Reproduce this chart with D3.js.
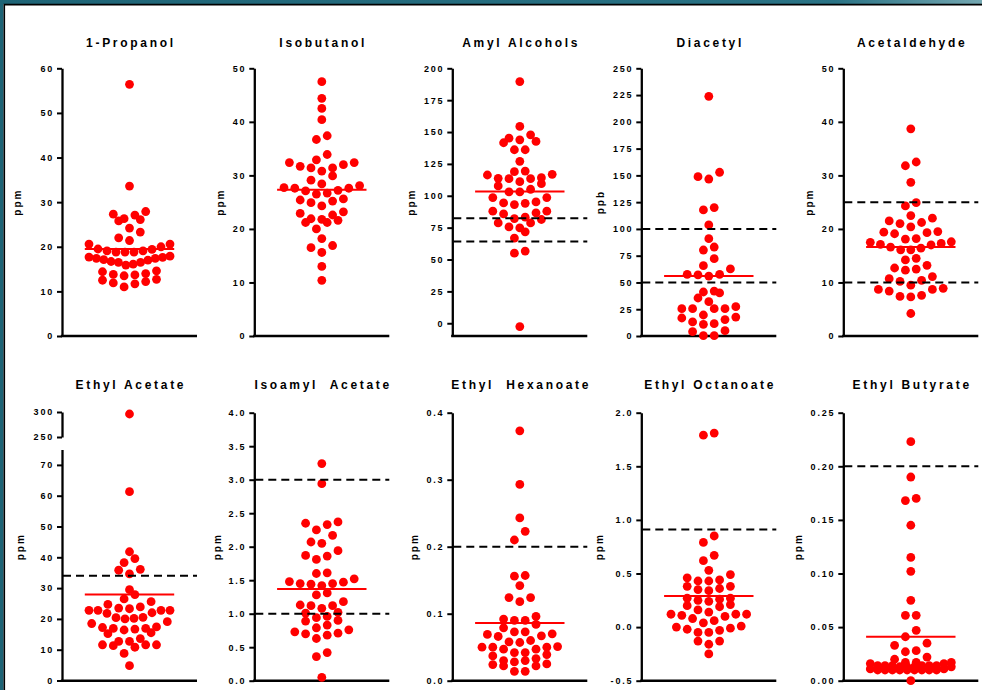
<!DOCTYPE html>
<html lang="en">
<head>
<meta charset="UTF-8" />
<title>Volatile compounds</title>
<style>
  body { margin: 0; background: #fff; }
  svg text { font-family: Arial, "Liberation Sans", sans-serif; font-weight: bold; fill: #000; }
</style>
</head>
<body>
<svg id="chart" width="982" height="690"></svg>
<script src="https://cdn.jsdelivr.net/npm/d3@7"></script>
<script>
const titles = ["1-Propanol", "Isobutanol", "Amyl Alcohols", "Diacetyl", "Acetaldehyde",
  "Ethyl Acetate", "Isoamyl  Acetate", "Ethyl  Hexanoate", "Ethyl Octanoate", "Ethyl Butyrate"];
const units = ["ppm", "ppm", "ppm", "ppb", "ppm", "ppm", "ppm", "ppm", "ppm", "ppm"];

const propanol = [56.4, 33.6, 27.9, 26.3, 27.1, 27.3, 25.8, 26.1, 23.3, 24.2, 21.4, 22.0, 20.6, 20.0, 19.4, 19.1,
  18.8, 18.8, 18.8, 19.1, 19.5, 20.6, 17.7, 17.4, 17.1, 16.7, 16.5, 15.9, 16.1, 16.5, 17.0, 17.4, 17.6, 17.9,
  14.6, 14.0, 13.7, 13.5, 13.8, 14.4, 12.5, 11.9, 11.0, 11.7, 12.2, 12.7];
const isobutanol = [47.5, 44.4, 42.5, 40.4, 36.7, 37.4, 32.9, 31.7, 32.4, 31.4, 32.0, 30.8, 32.4, 31.4, 33.9, 29.9,
  28.4, 26.7, 27.7, 25.6, 27.6, 25.2, 27.2, 25.4, 24.9, 27.6, 26.5, 28.1, 27.1, 29.1, 24.3, 23.2, 22.9, 21.9,
  21.6, 21.2, 21.2, 21.8, 22.6, 20.0, 18.2, 16.9, 15.6, 16.5, 13.0, 10.4];
const amyl = [189.6, 154.4, 145.2, 147.8, 142.6, 141.6, 143.9, 136.1, 136.1, 127.0, 116.8, 119.4, 118.9, 116.3,
  109.5, 114.2, 113.4, 113.4, 113.7, 111.1, 105.1, 103.0, 103.0, 107.7, 98.6, 98.6, 93.1, 94.4, 94.1, 95.2, 87.9,
  85.8, 86.6, 87.9, 83.2, 81.4, 82.1, 74.8, 78.7, 75.6, 78.7, 71.7, 66.8, 56.6, 55.0, -2.6];
const diacetyl = [223.8, 148.8, 146.6, 152.9, 117.7, 119.9, 103.7, 90.9, 83.1, 80.3, 72.2, 62.6, 65.7, 57.6, 56.0,
  57.0, 57.6, 42.0, 40.2, 35.5, 41.1, 32.1, 27.4, 25.5, 25.5, 25.5, 25.5, 17.7, 15.3, 11.5, 10.9, 13.1, 16.8,
  19.6, 4.0, 0.3, 0.3, 5.0];
const acetaldehyde = [38.7, 31.8, 32.5, 28.7, 24.3, 24.9, 22.5, 21.5, 21.2, 22.0, 20.4, 21.0, 19.4, 19.1, 19.3,
  19.5, 18.2, 18.1, 17.6, 17.3, 16.1, 17.0, 16.1, 16.6, 16.4, 17.1, 17.5, 14.5, 14.2, 13.2, 12.5, 12.3, 12.7,
  11.1, 10.4, 10.2, 10.7, 9.5, 8.7, 8.4, 8.7, 8.9, 7.4, 7.3, 7.6, 4.2];
const ethylAcetate = [296, 61.3, 41.8, 39.6, 38.3, 35.8, 34.6, 36.1, 29.5, 27.9, 26.5, 24.7, 25.6, 23.9, 23.3, 22.8,
  22.8, 21.8, 20.4, 20.0, 20.2, 20.5, 22.0, 22.8, 22.8, 23.5, 19.1, 17.4, 15.5, 16.9, 16.7, 16.4, 16.9, 15.2,
  17.2, 18.5, 11.6, 11.6, 13.6, 10.8, 12.7, 12.7, 11.3, 11.6, 8.8, 4.8];
const isoamylAcetate = [3.24, 2.94, 2.35, 2.25, 2.33, 2.37, 2.17, 2.07, 2.05, 1.94, 1.87, 1.81, 1.86, 1.60, 1.61,
  1.45, 1.48, 1.44, 1.47, 1.52, 1.42, 1.45, 1.28, 1.31, 1.12, 1.13, 1.12, 1.18, 1.08, 1.02, 1.01, 0.96, 0.90,
  0.89, 0.94, 0.83, 0.79, 0.73, 0.70, 0.68, 0.71, 0.76, 0.63, 0.42, 0.36, 0.05];
const ethylHexanoate = [0.373, 0.293, 0.243, 0.223, 0.210, 0.157, 0.156, 0.142, 0.124, 0.118, 0.124, 0.092, 0.090,
  0.090, 0.096, 0.084, 0.079, 0.073, 0.070, 0.069, 0.073, 0.067, 0.066, 0.060, 0.057, 0.058, 0.050, 0.050, 0.050,
  0.051, 0.047, 0.042, 0.042, 0.047, 0.037, 0.039, 0.033, 0.030, 0.028, 0.024, 0.022, 0.022, 0.025, 0.030,
  0.014, 0.014];
const ethylOctanoate = [1.81, 1.79, 0.85, 0.79, 0.67, 0.62, 0.53, 0.49, 0.44, 0.46, 0.43, 0.43, 0.38, 0.38, 0.35,
  0.34, 0.36, 0.27, 0.25, 0.26, 0.27, 0.24, 0.21, 0.19, 0.20, 0.16, 0.12, 0.12, 0.10, 0.08, 0.11, 0.12, 0.14,
  0.06, 0.04, 0.01, -0.01, -0.03, -0.02, 0.00, -0.05, -0.05, -0.13, -0.16, -0.13, -0.25];
const ethylButyrate = [0.223, 0.190, 0.168, 0.170, 0.145, 0.115, 0.102, 0.075, 0.061, 0.061, 0.047, 0.041, 0.035,
  0.033, 0.028, 0.027, 0.020, 0.022, 0.017, 0.017, 0.016, 0.017, 0.016, 0.014, 0.014, 0.013, 0.014, 0.013, 0.014,
  0.013, 0.014, 0.013, 0.014, 0.010, 0.010, 0.011, 0.010, 0.010, 0.010, 0.010, 0.011, 0.010, 0.010, 0.010, 0.000];

const means = [19.5, 27.3, 103.3, 56.0, 16.6, 27.9, 1.37, 0.086, 0.29, 0.041];
const limits = [[], [], [82.4, 64.1], [100, 50], [25, 10], [34], [3.0, 1.0], [0.2], [0.91], [0.2]];
const domains = [[0, 60], [0, 50], [-10, 200], [0, 250], [0, 50], [0, 75], [0, 4], [0, 0.4], [-0.5, 2], [0, 0.25]];
const tickSteps = [10, 10, 25, 25, 10, 10, 0.5, 0.1, 0.5, 0.05];
const tickFormats = ["d", "d", "d", "d", "d", "d", ".1f", ".1f", ".1f", ".2f"];
const upperSegment = [250, 300]; // ethyl acetate broken axis, top part

const series = [propanol, isobutanol, amyl, diacetyl, acetaldehyde,
  ethylAcetate, isoamylAcetate, ethylHexanoate, ethylOctanoate, ethylButyrate];

// layout
const axisX = [62, 254.3, 452.3, 641.3, 843.3];
const rowTop = [68.3, 412.7], rowBottom = [336, 680.7];
const titleY = [46.7, 388.5];
const axisLen = 135;
const labelOffset = [-43, -32, -39, -38.5, -32, -39.5, -35, -36, -39.5, -42.5];
const r = 4.4, binH = 9, gap = 10.8, spread = 81, maxPerRow = 12;

const svg = d3.select("#chart");

// window frame
const grad = svg.append("defs").append("linearGradient").attr("id", "bar");
grad.append("stop").attr("offset", "0%").attr("stop-color", "#1e6476");
grad.append("stop").attr("offset", "85%").attr("stop-color", "#2a7385");
grad.append("stop").attr("offset", "100%").attr("stop-color", "#74a7b1");
svg.append("rect").attr("width", 982).attr("height", 4).attr("fill", "url(#bar)");
svg.append("rect").attr("width", 3.5).attr("height", 690).attr("fill", "#1e6476");
svg.append("path").attr("d", "M4.3,690V4.6H982").attr("fill", "none").attr("stroke", "#000").attr("stroke-width", 1.6);

// Prism-like column scatter: rows of points, lowest in the middle
function swarm(values, y, cx) {
  const pts = values.map(v => ({ v, py: y(v) })).sort((a, b) => b.py - a.py);
  const rows = [];
  let cur = null;
  pts.forEach(p => {
    if (!cur || cur[0].py - p.py > binH || cur.length >= maxPerRow) { cur = [p]; rows.push(cur); }
    else cur.push(p);
  });
  rows.forEach(row => {
    const n = row.length;
    const step = n > 1 ? Math.min(gap, spread / (n - 1)) : 0;
    const slots = d3.range(n).map(k => (k - (n - 1) / 2) * step)
      .sort((a, b) => Math.abs(a) - Math.abs(b) || a - b);
    row.forEach((p, k) => { p.px = cx + slots[k]; });
  });
  return pts;
}

function styleAxis(g) {
  g.select(".domain").attr("stroke-width", 2.3);
  g.selectAll(".tick line").attr("stroke-width", 2);
  g.selectAll(".tick text").style("font-size", "9px").style("letter-spacing", "1.8px");
}

series.forEach((vals, i) => {
  const col = i % 5, row = Math.floor(i / 5);
  const x0 = axisX[col], cx = x0 + axisLen / 2;
  const top = rowTop[row], bottom = rowBottom[row];
  const g = svg.append("g");
  const f = d3.format(tickFormats[i]);
  const fmt = d => f(d).replace("\u2212", "-");
  const [lo, hi] = domains[i];
  const ticks = d3.range(Math.ceil(lo / tickSteps[i] - 1e-9), Math.floor(hi / tickSteps[i] + 1e-9) + 1)
    .map(k => +(k * tickSteps[i]).toFixed(4));
  let y;

  if (i === 5) {
    const lower = d3.scaleLinear(domains[i], [bottom - 0.2, 449.5]);
    const upper = d3.scaleLinear(upperSegment, [437, 412]);
    y = v => v > hi ? upper(v) : lower(v);
    g.append("g").attr("transform", `translate(${x0},0)`)
      .call(d3.axisLeft(lower).tickValues(ticks).tickFormat(d => d === hi ? "" : fmt(d))
        .tickSize(5).tickSizeOuter(0).tickPadding(3))
      .call(styleAxis);
    g.append("g").attr("transform", `translate(${x0},0)`)
      .call(d3.axisLeft(upper).tickValues(upperSegment).tickFormat(fmt)
        .tickSize(5).tickSizeOuter(0).tickPadding(3))
      .call(styleAxis);
  } else {
    y = d3.scaleLinear(domains[i], [bottom, top]);
    g.append("g").attr("transform", `translate(${x0},0)`)
      .call(d3.axisLeft(y).tickValues(ticks).tickFormat(fmt)
        .tickSize(5).tickSizeOuter(0).tickPadding(3))
      .call(styleAxis);
  }

  // x axis (no ticks)
  g.append("line")
    .attr("x1", x0 - 1.15).attr("x2", x0 + axisLen)
    .attr("y1", bottom).attr("y2", bottom)
    .attr("stroke", "#000").attr("stroke-width", 2.5);

  // title and unit
  g.append("text")
    .attr("x", cx + 1.4).attr("y", titleY[row])
    .attr("text-anchor", "middle")
    .style("font-size", "12px").style("letter-spacing", "2.7px")
    .style("white-space", "pre")
    .text(titles[i]);
  g.append("text")
    .attr("transform", `translate(${x0 + labelOffset[i]},${(top + bottom) / 2}) rotate(-90)`)
    .attr("dy", "0.16em")
    .attr("text-anchor", "middle")
    .style("font-size", "10px").style("letter-spacing", "2px")
    .text(units[i]);

  // points
  g.append("g").selectAll("circle")
    .data(swarm(vals, y, cx))
    .join("circle")
    .attr("cx", d => d.px).attr("cy", d => d.py).attr("r", r)
    .attr("fill", "#ff0000");

  // mean
  g.append("line")
    .attr("x1", cx - 44.7).attr("x2", cx + 44.7)
    .attr("y1", y(means[i])).attr("y2", y(means[i]))
    .attr("stroke", "#ff0000").attr("stroke-width", 2);

  // reference limits
  g.selectAll(".limit")
    .data(limits[i])
    .join("line")
    .attr("class", "limit")
    .attr("x1", x0 + 1).attr("x2", x0 + axisLen)
    .attr("y1", d => y(d)).attr("y2", d => y(d))
    .attr("stroke", "#000").attr("stroke-width", 2)
    .attr("stroke-dasharray", "8,5");
});
</script>
</body>
</html>
